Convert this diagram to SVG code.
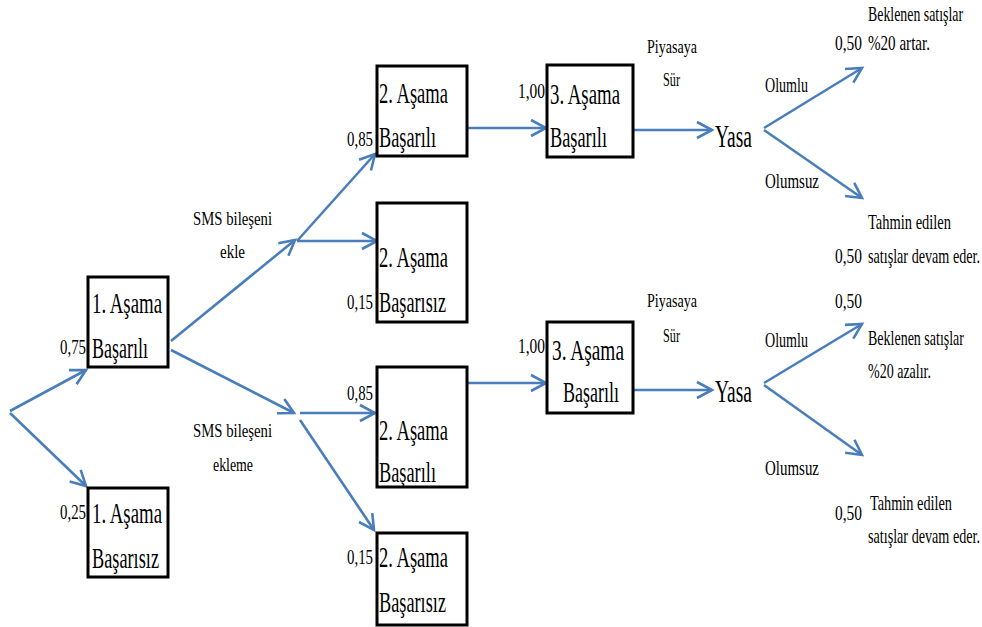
<svg xmlns="http://www.w3.org/2000/svg" width="982" height="627" viewBox="0 0 982 627" font-family="'Liberation Serif', 'DejaVu Serif', serif">
<defs>
<marker id="ah" markerUnits="userSpaceOnUse" markerWidth="20" markerHeight="20" viewBox="-2 -2 20 20" refX="15" refY="8" orient="auto">
<path d="M0,0 L15,8 L0,16" fill="none" stroke="#4A7EBB" stroke-width="2.6"/>
</marker>
</defs>
<style>
text{fill:#000}
.b{font-size:29px}
.p{font-size:22px}
.s{font-size:19px}
.y{font-size:31px}
.o{font-size:22px}
.r{font-size:21px}
rect{fill:#fff;stroke:#000;stroke-width:3}
.c path{fill:none;stroke:#4A7EBB;stroke-width:2.6;marker-end:url(#ah)}
</style>
<rect x="0" y="0" width="982" height="627" style="fill:#fff;stroke:none"/>
<g class="c" id="connectors">
<path d="M10,411 L86,370"/>
<path d="M10,413 L86,486"/>
<path d="M171,341 L295,240"/>
<path d="M171,350 L294,413"/>
<path d="M297,241 L375,154"/>
<path d="M297,241 L377,241"/>
<path d="M300,413 L375,413"/>
<path d="M300,420 L374,530"/>
<path d="M468,128 L546,128"/>
<path d="M634,130 L712,130"/>
<path d="M764,128 L862,68"/>
<path d="M764,130 L862,198"/>
<path d="M468,383 L546,383"/>
<path d="M634,390 L712,390"/>
<path d="M764,383 L862,324"/>
<path d="M764,385 L862,455"/>
</g>
<g id="n1a">
<rect x="88" y="277" width="80" height="90"/>
<text class="b" x="92" y="313" textLength="70" lengthAdjust="spacingAndGlyphs">1. Aşama</text>
<text class="b" x="92" y="358" textLength="56" lengthAdjust="spacingAndGlyphs">Başarılı</text>
<text class="p" x="60" y="354" textLength="26" lengthAdjust="spacingAndGlyphs">0,75</text>
</g>
<g id="n1b">
<rect x="88" y="488" width="80" height="89"/>
<text class="b" x="92" y="523" textLength="70" lengthAdjust="spacingAndGlyphs">1. Aşama</text>
<text class="b" x="92" y="568" textLength="67" lengthAdjust="spacingAndGlyphs">Başarısız</text>
<text class="p" x="60" y="519" textLength="26" lengthAdjust="spacingAndGlyphs">0,25</text>
</g>
<g id="n2a">
<rect x="377" y="66" width="90" height="90"/>
<text class="b" x="379" y="103" textLength="69" lengthAdjust="spacingAndGlyphs">2. Aşama</text>
<text class="b" x="379" y="147" textLength="57" lengthAdjust="spacingAndGlyphs">Başarılı</text>
<text class="p" x="347" y="146" textLength="26" lengthAdjust="spacingAndGlyphs">0,85</text>
</g>
<g id="n2b">
<rect x="377" y="203" width="90" height="119"/>
<text class="b" x="379" y="267" textLength="69" lengthAdjust="spacingAndGlyphs">2. Aşama</text>
<text class="b" x="379" y="312" textLength="67" lengthAdjust="spacingAndGlyphs">Başarısız</text>
<text class="p" x="347" y="309" textLength="26" lengthAdjust="spacingAndGlyphs">0,15</text>
</g>
<g id="n2c">
<rect x="377" y="367" width="90" height="120"/>
<text class="b" x="379" y="440" textLength="69" lengthAdjust="spacingAndGlyphs">2. Aşama</text>
<text class="b" x="379" y="482" textLength="57" lengthAdjust="spacingAndGlyphs">Başarılı</text>
<text class="p" x="347" y="400" textLength="26" lengthAdjust="spacingAndGlyphs">0,85</text>
</g>
<g id="n2d">
<rect x="377" y="533" width="90" height="92"/>
<text class="b" x="379" y="567" textLength="69" lengthAdjust="spacingAndGlyphs">2. Aşama</text>
<text class="b" x="379" y="612" textLength="67" lengthAdjust="spacingAndGlyphs">Başarısız</text>
<text class="p" x="347" y="564" textLength="26" lengthAdjust="spacingAndGlyphs">0,15</text>
</g>
<g id="n3a">
<rect x="547" y="65" width="86" height="92"/>
<text class="b" x="550" y="104" textLength="70" lengthAdjust="spacingAndGlyphs">3. Aşama</text>
<text class="b" x="550" y="147" textLength="57" lengthAdjust="spacingAndGlyphs">Başarılı</text>
<text class="p" x="518" y="98" textLength="27" lengthAdjust="spacingAndGlyphs">1,00</text>
</g>
<g id="n3b">
<rect x="547" y="322" width="86" height="91"/>
<text class="b" x="552" y="360" textLength="72" lengthAdjust="spacingAndGlyphs">3. Aşama</text>
<text class="b" x="563" y="402" textLength="56" lengthAdjust="spacingAndGlyphs">Başarılı</text>
<text class="p" x="518" y="353" textLength="27" lengthAdjust="spacingAndGlyphs">1,00</text>
</g>
<g id="labels-sms">
<text class="s" x="193" y="225" textLength="79" lengthAdjust="spacingAndGlyphs">SMS bileşeni</text>
<text class="s" x="220" y="258" textLength="25" lengthAdjust="spacingAndGlyphs">ekle</text>
<text class="s" x="193" y="437" textLength="79" lengthAdjust="spacingAndGlyphs">SMS bileşeni</text>
<text class="s" x="213" y="471" textLength="40" lengthAdjust="spacingAndGlyphs">ekleme</text>
</g>
<g id="labels-piyasa">
<text class="s" x="647" y="53" textLength="50" lengthAdjust="spacingAndGlyphs">Piyasaya</text>
<text class="s" x="663" y="86" textLength="17" lengthAdjust="spacingAndGlyphs">Sür</text>
<text class="s" x="647" y="307" textLength="50" lengthAdjust="spacingAndGlyphs">Piyasaya</text>
<text class="s" x="663" y="342" textLength="17" lengthAdjust="spacingAndGlyphs">Sür</text>
</g>
<g id="yasa-top">
<text class="y" x="715" y="147" textLength="37" lengthAdjust="spacingAndGlyphs">Yasa</text>
</g>
<g id="yasa-bottom">
<text class="y" x="715" y="402" textLength="37" lengthAdjust="spacingAndGlyphs">Yasa</text>
</g>
<g id="labels-branch">
<text class="o" x="765" y="92" textLength="43" lengthAdjust="spacingAndGlyphs">Olumlu</text>
<text class="o" x="765" y="188" textLength="54" lengthAdjust="spacingAndGlyphs">Olumsuz</text>
<text class="o" x="765" y="347" textLength="43" lengthAdjust="spacingAndGlyphs">Olumlu</text>
<text class="o" x="765" y="475" textLength="54" lengthAdjust="spacingAndGlyphs">Olumsuz</text>
</g>
<g id="outcome-1">
<text class="r" x="868" y="21" textLength="95" lengthAdjust="spacingAndGlyphs">Beklenen satışlar</text>
<text class="p" x="835" y="50" textLength="27" lengthAdjust="spacingAndGlyphs">0,50</text>
<text class="r" x="868" y="50" textLength="62" lengthAdjust="spacingAndGlyphs">%20 artar.</text>
</g>
<g id="outcome-2">
<text class="r" x="868" y="229" textLength="83" lengthAdjust="spacingAndGlyphs">Tahmin edilen</text>
<text class="p" x="835" y="263" textLength="27" lengthAdjust="spacingAndGlyphs">0,50</text>
<text class="r" x="868" y="263" textLength="112" lengthAdjust="spacingAndGlyphs">satışlar devam eder.</text>
</g>
<g id="outcome-3">
<text class="p" x="835" y="308" textLength="27" lengthAdjust="spacingAndGlyphs">0,50</text>
<text class="r" x="868" y="345" textLength="96" lengthAdjust="spacingAndGlyphs">Beklenen satışlar</text>
<text class="r" x="868" y="378" textLength="63" lengthAdjust="spacingAndGlyphs">%20 azalır.</text>
</g>
<g id="outcome-4">
<text class="p" x="835" y="520" textLength="27" lengthAdjust="spacingAndGlyphs">0,50</text>
<text class="r" x="870" y="510" textLength="82" lengthAdjust="spacingAndGlyphs">Tahmin edilen</text>
<text class="r" x="868" y="543" textLength="112" lengthAdjust="spacingAndGlyphs">satışlar devam eder.</text>
</g>
</svg>
